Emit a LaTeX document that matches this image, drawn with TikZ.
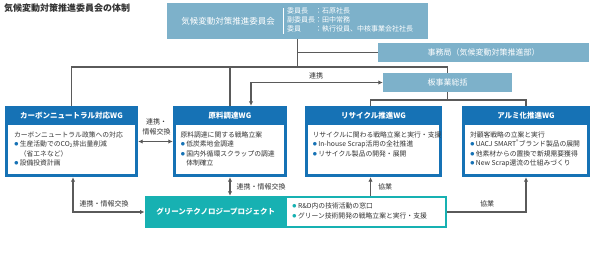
\documentclass[tikz,border=0pt]{standalone}
\usepackage{fontspec}
\setmainfont{Noto Sans CJK JP}
\usepackage{xcolor}
\usepackage{tikz}
\usetikzlibrary{arrows.meta}
\usetikzlibrary{positioning}
\definecolor{paleblue}{HTML}{7DB1CA}
\definecolor{wgblue}{HTML}{1672B5}
\definecolor{greentech}{HTML}{17B1B2}
\definecolor{linegray}{HTML}{5A5A5A}
\definecolor{textgray}{HTML}{333333}
\newcommand{\wgdot}{\textcolor{wgblue}{\fontsize{9}{9}\selectfont$\bullet$}\hspace{1.2pt}}
\newcommand{\gtdot}{\textcolor{greentech}{\fontsize{9}{9}\selectfont$\bullet$}\hspace{1.2pt}}
\newcommand{\wgskip}{\phantom{\wgdot}}
\tikzset{
    boardbox/.style={
        fill=paleblue,
        draw=none,
        text=white,
        inner sep=0pt,
        font=\fontsize{8}{10}\selectfont
    },
    wgframe/.style={fill=wgblue, draw=none, inner sep=0pt},
    wginner/.style={fill=white, draw=none, inner sep=0pt},
    wgtitle/.style={text=white, inner sep=0pt, font=\fontsize{7.5}{9}\selectfont\bfseries},
    wgbody/.style={
        text=textgray,
        anchor=north west,
        align=left,
        inner sep=0pt,
        font=\fontsize{6.8}{9.5}\selectfont
    },
    link/.style={draw=linegray, line width=1.1pt},
    linkarrow/.style={link, -{Latex[length=4.5pt,width=4.5pt]}},
    linkboth/.style={link, {Latex[length=4.5pt,width=4.5pt]}-{Latex[length=4.5pt,width=4.5pt]}},
    linklabel/.style={text=textgray, inner sep=0pt, font=\fontsize{7}{10.5}\selectfont},
}
\begin{document}
\begin{tikzpicture}[x=1pt, y=-1pt]
        \useasboundingbox (0,0) rectangle (593,270);
        \coordinate (bar) at (0,67);
        \coordinate (subbar) at (0,100);

        \node[anchor=west, inner sep=0pt, text=textgray, font=\fontsize{9}{11}\selectfont\bfseries] (title) at (4,8) {気候変動対策推進委員会の体制};

        % Committee (name | members)
        \node[boardbox, minimum width=261pt, minimum height=36pt] (committee) at (297.5,21) {};
        \node[text=white, inner sep=0pt, font=\fontsize{8.5}{10}\selectfont] (committeename) at (228,21) {気候変動対策推進委員会};
        \draw[white, line width=0.6pt] (283,8) -- (283,34);
        \node[anchor=west, text=white, inner sep=0pt, font=\fontsize{7}{9}\selectfont] (members) at (287,21) {\begin{tabular}{@{}l@{：}l@{}}委員長&石原社長\\副委員長&田中常務\\委員&執行役員、中核事業会社社長\end{tabular}};

        \node[boardbox, minimum width=211pt, minimum height=19pt] (office) at (483.5,52.5) {事務局（気候変動対策推進部）};
        \node[boardbox, minimum width=129pt, minimum height=19pt] (board) at (447.5,82.5) {板事業総括};

        % WG boxes
        \node[wgframe, minimum width=133pt, minimum height=71pt] (carbon) at (71.5,141.5) {};
        \node[wginner, minimum width=127pt, minimum height=49pt, anchor=south] (carboninner) at ([yshift=3pt]carbon.south) {};
        \node[wgtitle] (carbontitle) at ([yshift=-9.5pt]carbon.north) {カーボンニュートラル対応WG};
        \node[wgbody] (carbontext) at ([xshift=6pt,yshift=-6.5pt]carboninner.north west) {カーボンニュートラル政策への対応\\\wgdot 生産活動でのCO\textsubscript{2}排出量削減\\\wgskip（省エネなど）\\\wgdot 設備投資計画};

        \node[wgframe, minimum width=114pt, minimum height=71pt] (genryo) at (230,141.5) {};
        \node[wginner, minimum width=108pt, minimum height=49pt, anchor=south] (genryoinner) at ([yshift=3pt]genryo.south) {};
        \node[wgtitle] (genryotitle) at ([yshift=-9.5pt]genryo.north) {原料調達WG};
        \node[wgbody] (genryotext) at ([xshift=4.5pt,yshift=-6.5pt]genryoinner.north west) {原料調達に関する戦略立案\\\wgdot 低炭素地金調達\\\wgdot 国内外循環スクラップの調達\\\wgskip 体制確立};

        \node[wgframe, minimum width=137pt, minimum height=71pt] (recycle) at (373.5,141.5) {};
        \node[wginner, minimum width=131pt, minimum height=49pt, anchor=south] (recycleinner) at ([yshift=3pt]recycle.south) {};
        \node[wgtitle] (recycletitle) at ([yshift=-9.5pt]recycle.north) {リサイクル推進WG};
        \node[wgbody] (recycletext) at ([xshift=4.5pt,yshift=-6.5pt]recycleinner.north west) {リサイクルに関わる戦略立案と実行・支援\\\wgdot In-house Scrap活用の全社推進\\\wgdot リサイクル製品の開発・展開};

        \node[wgframe, minimum width=128pt, minimum height=71pt] (alumi) at (526,141.5) {};
        \node[wginner, minimum width=122pt, minimum height=49pt, anchor=south] (alumiinner) at ([yshift=3pt]alumi.south) {};
        \node[wgtitle] (alumititle) at ([yshift=-9.5pt]alumi.north) {アルミ化推進WG};
        \node[wgbody] (alumitext) at ([xshift=5pt,yshift=-6.5pt]alumiinner.north west) {対顧客戦略の立案と実行\\\wgdot UACJ SMART\textsuperscript{®}ブランド製品の展開\\\wgdot 他素材からの置換で新規需要獲得\\\wgdot New Scrap還流の仕組みづくり};

        % Green technology project
        \node[draw=greentech, line width=2.5pt, fill=white, minimum width=299pt, minimum height=30pt, inner sep=0pt] (green) at (296.5,212) {};
        \node[fill=greentech, minimum width=142pt, minimum height=32pt, anchor=west, inner sep=0pt, text=white, font=\fontsize{7.5}{9}\selectfont\bfseries] (greenname) at ([xshift=-1.25pt]green.west) {グリーンテクノロジープロジェクト};
        \node[wgbody, anchor=west] (greentext) at (292,211) {\gtdot R\&D内の技術活動の窓口\\\gtdot グリーン技術開発の戦略立案と実行・支援};

        % Connectors
        \draw[link] (committee.south) -- (committee.south |- bar);
        \draw[link] (office.west) -- (office.west -| committee.south);
        \draw[link] (carbon.north) |- (board.north |- bar) -- (board.north);
        \draw[link] (genryo.north) -- (genryo.north |- bar);
        \draw[link] (board.south) -- (board.south |- subbar);
        \draw[link] ([xshift=-3pt]recycle.north) |- (alumi.north |- subbar) -- (alumi.north);

        \draw[linkboth] ([xshift=21pt]genryo.north) |- (board.west);
        \node[linklabel] (boardlabel) at (316,76) {連携};
        \draw[linkboth] (carbon.east) -- (genryo.west);
        \node[linklabel, align=center] (sidelabel) at (156.5,127) {連携・\\情報交換};
        \draw[linkboth] ([xshift=1.5pt]carbon.south) |- (greenname.west);
        \node[linklabel] (carbonlabel) at (104,204) {連携・情報交換};
        \draw[linkboth] (genryo.south) -- (genryo.south |- green.north);
        \node[linklabel] (genryolabel) at (261,187) {連携・情報交換};
        \draw[linkarrow] ([xshift=-3pt]recycle.south |- green.north) -- ([xshift=-3pt]recycle.south);
        \node[linklabel] (recyclelabel) at (385,187) {協業};
        \draw[linkarrow] (green.east) -| (alumi.south);
        \node[linklabel] (alumilabel) at (487,204) {協業};
        \end{tikzpicture}
\end{document}
